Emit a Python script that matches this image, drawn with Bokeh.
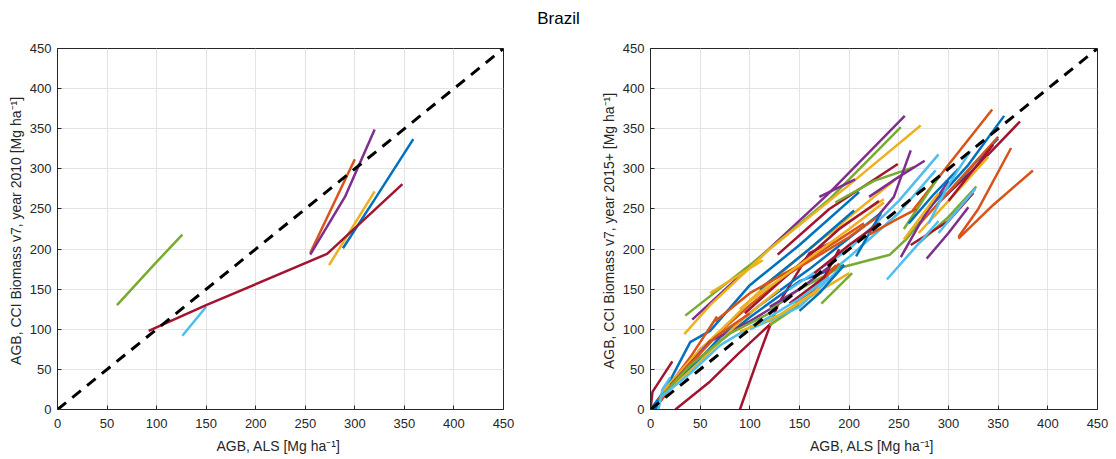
from bokeh.plotting import figure
from bokeh.layouts import column, row
from bokeh.models import Label, Range1d, FixedTicker, ColumnDataSource
from bokeh.embed import file_html
from bokeh.resources import INLINE

BLUE = "#0072BD"; ORANGE = "#D95319"; YELLOW = "#EDB120"; PURPLE = "#7E2F8E"
GREEN = "#77AC30"; LBLUE = "#4DBEEE"; DRED = "#A2142F"

title_text = "Brazil"
x_label = "AGB, ALS  [Mg ha\u207b\u00b9]"
left_ylabel = "AGB, CCI Biomass v7, year 2010  [Mg ha\u207b\u00b9]"
right_ylabel = "AGB, CCI Biomass v7, year 2015+  [Mg ha\u207b\u00b9]"
tick_values = [0, 50, 100, 150, 200, 250, 300, 350, 400, 450]
diag_x = [0, 450]
diag_y = [0, 450]

# Left panel (year 2010)
left_xs = [
    [288, 320, 359],
    [255, 300],
    [274, 320],
    [255, 290, 320],
    [60, 97, 126],
    [126, 150],
    [92, 150, 272, 348],
]
left_ys = [
    [201, 262, 337],
    [195, 312],
    [180, 272],
    [193, 265, 349],
    [130, 180, 218],
    [92, 128],
    [98, 130, 194, 281],
]
left_colors = [BLUE, ORANGE, YELLOW, PURPLE, GREEN, LBLUE, DRED]

# Right panel (year 2015+)
right_xs = [
    [0, 2, 22], [25, 60, 88, 128], [90, 110, 128, 160, 185],
    [5, 12, 40, 60, 100, 150, 210], [3, 20, 50, 100, 150, 195],
    [0, 15, 40, 70, 110, 160, 232], [8, 40, 67], [10, 50, 100, 140, 200, 232],
    [12, 45, 80, 120, 175, 235], [8, 12, 20], [20, 60, 100, 140],
    [15, 50, 90, 130], [10, 35, 65, 100], [12, 40, 80, 120], [10, 40, 70, 110],
    [42, 100, 180, 256], [35, 100, 180, 252], [34, 60, 120, 200, 272],
    [60, 113], [128, 180, 249], [186, 225, 265], [170, 206],
    [90, 150, 200, 245], [95, 140, 190, 230], [110, 160, 205],
    [65, 100, 150, 215], [140, 200, 250, 290], [150, 200, 250, 287],
    [228, 245, 262], [220, 250, 276], [120, 150, 189, 241, 258, 272],
    [100, 150, 200, 235], [207, 232], [165, 200, 230],
    [140, 165, 190], [120, 160, 200], [120, 150], [172, 203],
    [100, 150, 190], [150, 170, 195], [145, 170, 187], [90, 130, 170],
    [140, 175, 190], [120, 150, 180], [110, 150, 180],
    [264, 300, 344], [280, 320, 356], [290, 330, 372], [310, 330, 363],
    [310, 345, 385], [300, 325, 350], [270, 310, 350], [270, 300, 340],
    [270, 300, 328], [262, 300, 325], [278, 300, 320], [252, 275, 300],
    [238, 265, 290], [290, 310, 327], [255, 290], [255, 290],
    [260, 285, 310], [300, 345], [280, 300, 322], [220, 245, 268],
]
right_ys = [
    [0, 22, 60], [0, 35, 69, 115], [0, 70, 130, 195, 210],
    [0, 18, 84, 98, 155, 205, 271], [0, 28, 65, 115, 160, 180],
    [0, 25, 50, 90, 130, 175, 245], [12, 65, 116], [10, 75, 130, 170, 215, 243],
    [22, 68, 110, 160, 215, 262], [0, 25, 40], [30, 85, 110, 140],
    [20, 60, 110, 150], [15, 50, 90, 120], [18, 55, 95, 120], [15, 45, 80, 110],
    [112, 178, 270, 366], [117, 180, 262, 352], [94, 130, 200, 280, 354],
    [145, 186], [193, 250, 306], [258, 285, 302], [265, 287],
    [125, 190, 240, 285], [120, 170, 225, 260], [150, 200, 248],
    [110, 145, 180, 232], [150, 200, 260, 318], [140, 190, 245, 298],
    [240, 265, 323], [265, 290, 310], [125, 150, 176, 193, 213, 235],
    [135, 180, 225, 258], [191, 245], [170, 205, 232],
    [125, 150, 182], [108, 140, 170], [105, 130], [132, 170],
    [100, 128, 175], [123, 145, 180], [133, 160, 180], [97, 118, 150],
    [132, 165, 200], [128, 150, 178], [108, 138, 165],
    [248, 305, 374], [250, 305, 366], [258, 305, 359], [215, 250, 326],
    [213, 255, 298], [270, 305, 338], [230, 285, 340], [220, 260, 315],
    [207, 240, 278], [205, 235, 270], [188, 220, 252], [190, 240, 285],
    [162, 200, 235], [220, 250, 275], [225, 290], [212, 270],
    [232, 268, 300], [260, 330], [232, 280, 322], [218, 235, 250],
]
right_colors = [
    DRED, DRED, DRED,
    BLUE, BLUE,
    BLUE, ORANGE, ORANGE,
    YELLOW, LBLUE, PURPLE,
    YELLOW, ORANGE, GREEN, LBLUE,
    PURPLE, GREEN, YELLOW,
    YELLOW, DRED, GREEN, PURPLE,
    YELLOW, DRED, BLUE,
    ORANGE, LBLUE, LBLUE,
    PURPLE, PURPLE, GREEN,
    YELLOW, BLUE, DRED,
    ORANGE, YELLOW, GREEN, GREEN,
    LBLUE, BLUE, ORANGE, YELLOW,
    DRED, PURPLE, LBLUE,
    ORANGE, BLUE, DRED, ORANGE,
    ORANGE, BLUE, ORANGE, YELLOW,
    GREEN, DRED, PURPLE, PURPLE,
    LBLUE, LBLUE, GREEN, YELLOW,
    BLUE, DRED, LBLUE, ORANGE,
]

FONT = "Liberation Sans"
TXT = "#262626"


def make_panel(xs, ys, colors, ylabel, width, mbl, mbr):
    p = figure(width=width, height=416, x_range=Range1d(0, 450), y_range=Range1d(0, 450),
               toolbar_location=None, output_backend="svg",
               min_border_left=mbl, min_border_right=mbr, min_border_top=8, min_border_bottom=44)
    src = ColumnDataSource(dict(xs=xs, ys=ys, color=colors))
    p.multi_line("xs", "ys", line_color="color", line_width=2.5, source=src)
    p.line(diag_x, diag_y, line_color="black", line_width=3, line_dash="11 8")
    for ax in (p.xaxis, p.yaxis):
        ax.ticker = FixedTicker(ticks=tick_values)
        ax.major_tick_in = 4
        ax.major_tick_out = 0
        ax.minor_tick_line_color = None
        ax.axis_line_color = TXT
        ax.major_tick_line_color = TXT
        ax.major_label_text_font = FONT
        ax.major_label_text_font_size = "13px"
        ax.major_label_text_color = TXT
        ax.axis_label_text_font = FONT
        ax.axis_label_text_font_size = "14px"
        ax.axis_label_text_font_style = "normal"
        ax.axis_label_text_color = TXT
    p.xaxis.axis_label = x_label
    p.yaxis.axis_label = ylabel
    p.xaxis.axis_label_standoff = 7
    p.yaxis.axis_label_standoff = 3
    p.xaxis.major_label_standoff = 9
    p.yaxis.major_label_standoff = 6
    p.grid.grid_line_color = "#e3e3e3"
    p.outline_line_color = TXT
    p.outline_line_alpha = 1
    p.background_fill_color = "white"
    p.border_fill_color = "white"
    return p


p1 = make_panel(left_xs, left_ys, left_colors, left_ylabel, 543, 57, 40)
p2 = make_panel(right_xs, right_ys, right_colors, right_ylabel, 566, 107, 12)

t = figure(width=1109, height=40, x_range=Range1d(0, 1), y_range=Range1d(0, 1),
           toolbar_location=None, output_backend="svg", min_border=0)
t.axis.visible = False
t.grid.visible = False
t.outline_line_color = None
t.add_layout(Label(x=558 / 1109, y=0.55, text=title_text, text_align="center", text_baseline="middle",
                   text_font=FONT, text_font_size="17px", text_color="black"))

layout = column(t, row(p1, p2))
open("out.html", "w").write(file_html(layout, INLINE))
